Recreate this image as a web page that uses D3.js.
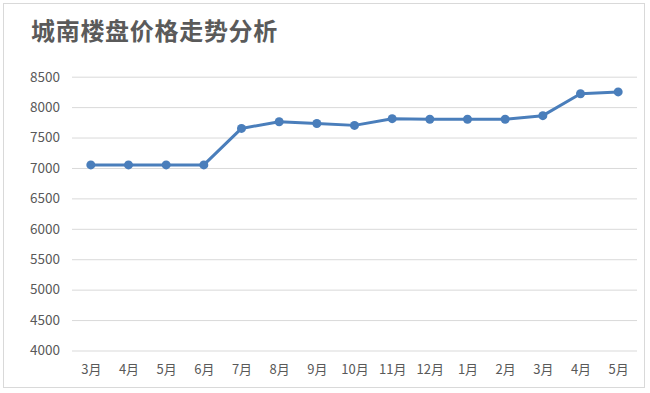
<!DOCTYPE html>
<html><head><meta charset="utf-8">
<script src="https://cdn.jsdelivr.net/npm/d3@7"></script>
<style>body{margin:0;background:#fff}svg{display:block}</style>
</head><body>
<script>
const title = "城南楼盘价格走势分析";
const months = ["3月","4月","5月","6月","7月","8月","9月","10月","11月","12月","1月","2月","3月","4月","5月"];
const prices = [7050,7050,7050,7050,7650,7760,7730,7700,7810,7800,7800,7800,7860,8220,8250];
const yTicks = [4000,4500,5000,5500,6000,6500,7000,7500,8000,8500];

const W = 650, H = 393;
const svg = d3.select("body").append("svg").attr("width", W).attr("height", H);
svg.append("rect").attr("x",3.5).attr("y",3.5).attr("width",641).attr("height",384)
  .attr("fill","#fff").attr("stroke","#d9d9d9").attr("stroke-width",1);

svg.append("text").attr("x",31).attr("y",40).text(title)
  .attr("font-family","'Noto Sans CJK SC', sans-serif").attr("font-size",24)
  .attr("letter-spacing",0.7)
  .attr("font-weight","bold").attr("fill","#5a5a5a");

const x = d3.scalePoint().domain(d3.range(months.length)).range([72, 637]).padding(0.5);
const y = d3.scaleLinear().domain([4000, 8500]).range([350.5, 76.7]);

const font = "'Noto Sans CJK SC', 'Noto Sans', sans-serif";
const yAxis = d3.axisLeft(y).tickValues(yTicks).tickSize(-(637-72)).tickPadding(12).tickFormat(d3.format("d"));
const gy = svg.append("g").attr("transform","translate(72,0)").call(yAxis);
gy.select(".domain").remove();
gy.selectAll(".tick line").attr("stroke","#d9d9d9").attr("stroke-width",1);
gy.selectAll(".tick text").attr("fill","#595959").attr("font-size",13.5).attr("font-family",font);

const xAxis = d3.axisBottom(x).tickSize(0).tickPadding(14).tickFormat(i => months[i]);
const gx = svg.append("g").attr("transform","translate(0,350.5)").call(xAxis);
gx.select(".domain").remove();
gx.selectAll(".tick text").attr("fill","#595959").attr("font-size",13).attr("font-family",font);

const color = "#4a7ebb";
const line = d3.line().x((d,i)=>x(i)).y(d=>y(d));
svg.append("path").datum(prices).attr("d",line).attr("fill","none")
  .attr("stroke",color).attr("stroke-width",3).attr("stroke-linejoin","round");
svg.append("g").selectAll("circle").data(prices).join("circle")
  .attr("cx",(d,i)=>x(i)).attr("cy",d=>y(d)).attr("r",4.5).attr("fill",color);
</script>
</body></html>
